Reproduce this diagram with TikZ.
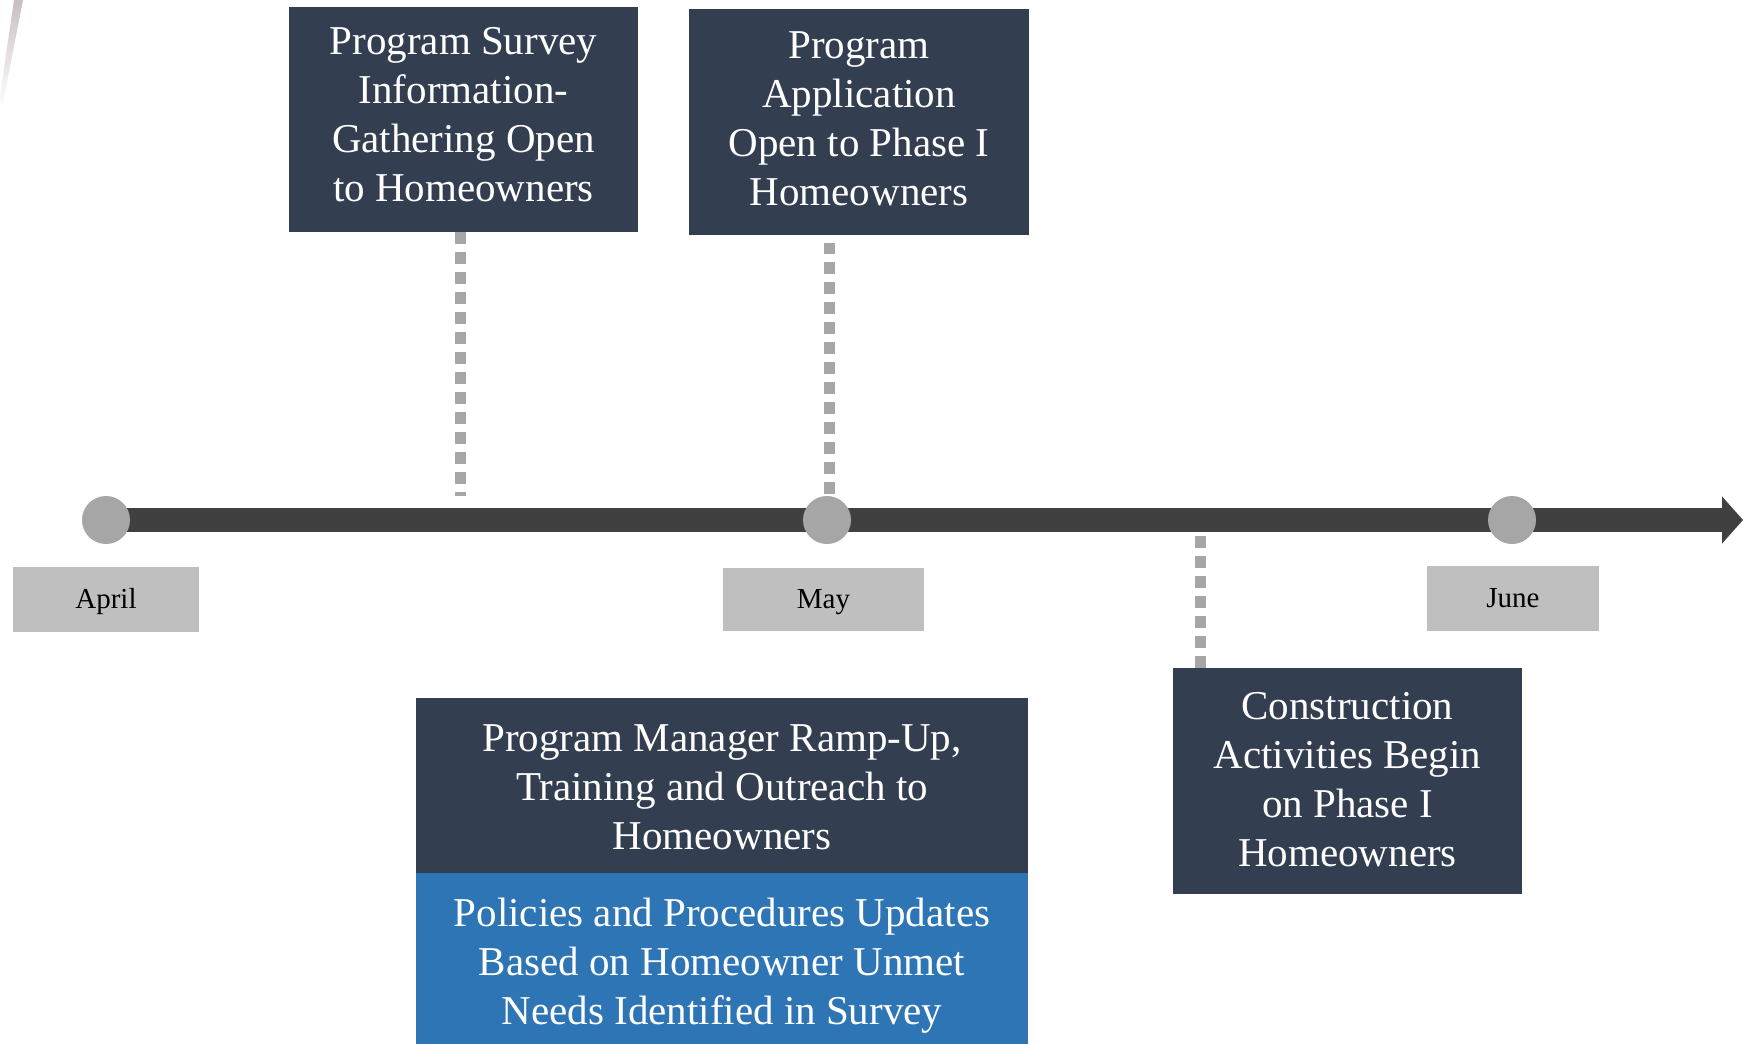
\documentclass[tikz,border=0pt]{standalone}
\usepackage{fontspec}
\setmainfont{Liberation Serif}
\usetikzlibrary{arrows.meta}
\definecolor{boxdark}{HTML}{333E50}
\definecolor{boxblue}{HTML}{2E75B6}
\definecolor{bargray}{HTML}{404040}
\definecolor{dotgray}{HTML}{A6A6A6}
\definecolor{labgray}{HTML}{BFBFBF}
\definecolor{streak}{HTML}{C8BEC2}
\tikzset{
  evbox/.style={fill=boxdark, draw=none, text=white, align=center, inner sep=0pt,
    font=\fontsize{41}{49}\selectfont},
  bluebox/.style={evbox, fill=boxblue},
  monthbox/.style={fill=labgray, draw=none, text=black, inner sep=0pt,
    text height=18pt, text depth=0pt, font=\fontsize{29}{34}\selectfont},
  dot/.style={circle, fill=dotgray, draw=none, minimum size=48pt, inner sep=0pt},
  dotline/.style={dotgray, line width=11pt, dash pattern=on 12pt off 8pt},
  timeline/.style={bargray, line width=24pt, -{Triangle[length=21pt,width=46pt]}}
}
\begin{document}
\begin{tikzpicture}[x=1pt,y=-1pt]
\useasboundingbox (0,0) rectangle (1752,1044);
% top-left streak
\shade[top color=streak, bottom color=white] (14,0) -- (23,0) -- (2,108) -- (0,108) -- (0,96) -- cycle;

% timeline
\coordinate (tip) at (1743,520);
\coordinate (aprilc) at (106,520);
\draw[timeline] (aprilc) -- (tip);
\node[dot] (april) at (106,520) {};
\node[dot] (may) at (827,520) {};
\node[dot] (june) at (1512,520) {};

% month labels
\node[monthbox, minimum width=186pt, minimum height=65pt] (lapril) at (106,599.5) {April};
\node[monthbox, minimum width=201pt, minimum height=63pt] (lmay) at (823.5,599.5) {May};
\node[monthbox, minimum width=172pt, minimum height=65pt] (ljune) at (1513,598.5) {June};

% event boxes
\node[evbox, minimum width=349pt, minimum height=225pt] (survey) at (463.5,119.5) {};
\node[evbox, minimum width=340pt, minimum height=226pt] (app) at (859,122) {};
\node[evbox, minimum width=612pt, minimum height=175pt] (ramp) at (722,785.5) {};
\node[bluebox, minimum width=612pt, minimum height=171pt] (policy) at (722,958.5) {};
\node[evbox, minimum width=349pt, minimum height=226pt] (constr) at (1347.5,781) {};

\node[evbox, fill=none] (surveyt) at ([yshift=4.5pt]survey.center)
  {Program Survey\\Information-\\Gathering Open\\to Homeowners};
\node[evbox, fill=none] (appt) at ([yshift=3.5pt]app.center)
  {Program\\Application\\Open to Phase I\\Homeowners};
\node[evbox, fill=none] (rampt) at ([yshift=-2pt]ramp.center)
  {Program Manager Ramp-Up,\\Training  and Outreach to\\Homeowners};
\node[evbox, fill=none] (policyt) at ([yshift=-7pt]policy.center)
  {Policies  and Procedures Updates\\Based on Homeowner Unmet\\Needs Identified in Survey};
\node[evbox, fill=none] (constrt) at ([yshift=1pt]constr.center)
  {Construction\\Activities  Begin\\on Phase I\\Homeowners};

% dotted connectors
\coordinate (s1) at (460,496);
\draw[dotline] (survey.south -| s1) -- (s1);
\draw[dotline] (may.north -| 829,0) ++(0,-2) -- (829,243);
\coordinate (s3) at (1200,536);
\draw[dotline] (s3) -- ([yshift=-2pt]constr.north -| s3);
\end{tikzpicture}
\end{document}
